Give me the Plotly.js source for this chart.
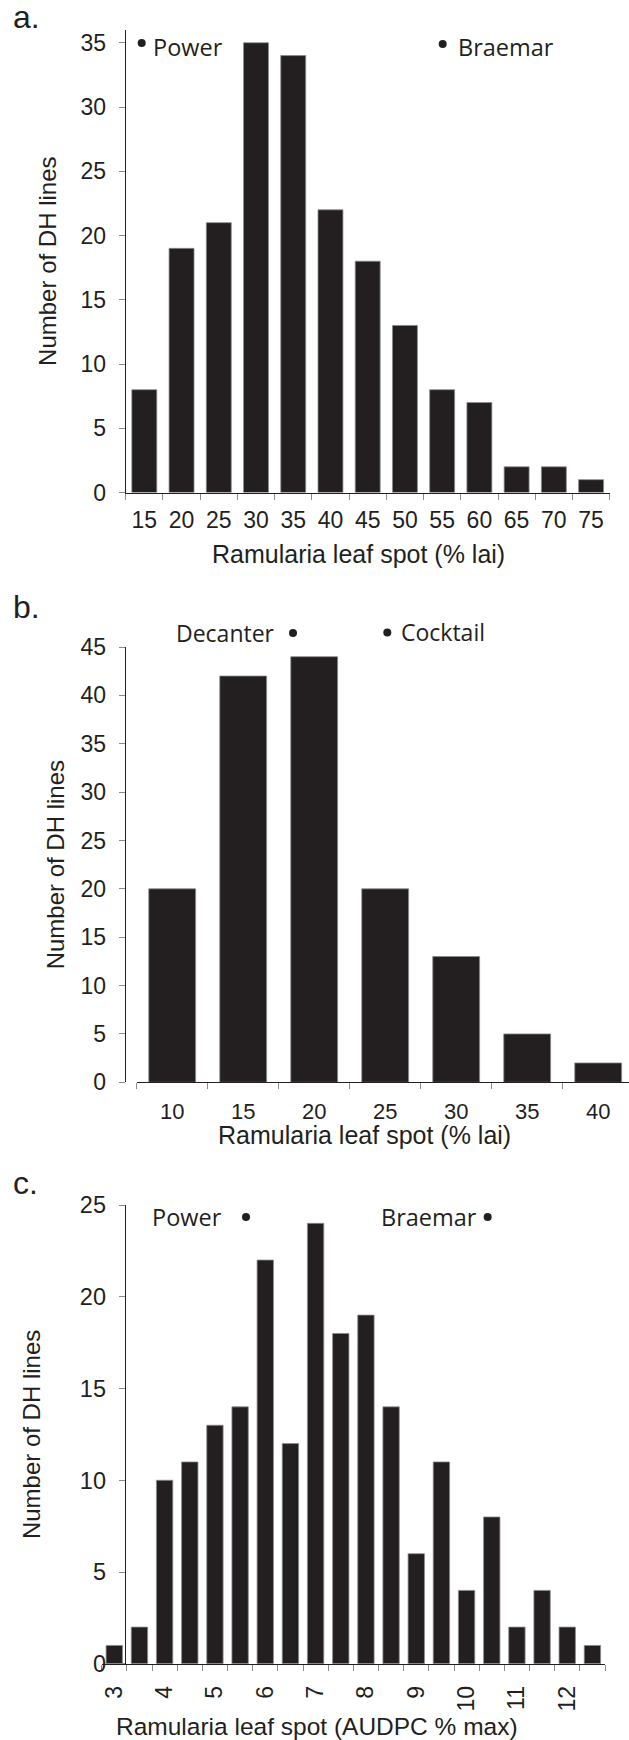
<!DOCTYPE html>
<html>
<head>
<meta charset="utf-8">
<script src="https://cdn.plot.ly/plotly-3.0.1.min.js"></script>
<style>html,body{margin:0;padding:0;background:#fff;}#chart{width:629px;height:1740px;}</style>
</head>
<body>
<div id="chart"></div>
<script>
// ---------- data ----------
const binsA = ['15','20','25','30','35','40','45','50','55','60','65','70','75'];
const countsA = [8, 19, 21, 35, 34, 22, 18, 13, 8, 7, 2, 2, 1];

const binsB = ['10','15','20','25','30','35','40'];
const countsB = [20, 42, 44, 20, 13, 5, 2];

const binsC = [3, 3.5, 4, 4.5, 5, 5.5, 6, 6.5, 7, 7.5, 8, 8.5, 9, 9.5, 10, 10.5, 11, 11.5, 12, 12.5];
const countsC = [1, 2, 10, 11, 13, 14, 22, 12, 24, 18, 19, 14, 6, 11, 4, 8, 2, 4, 2, 1];
const tickValsC = [3, 4, 5, 6, 7, 8, 9, 10, 11, 12];

const yTitle = 'Number of DH lines';
const xTitleAB = 'Ramularia leaf spot (% lai)';
const xTitleC = 'Ramularia leaf spot (AUDPC % max)';

// ---------- layout helpers ----------
const W = 629, H = 1740;
const px = v => v / W;
const py = v => 1 - v / H;

const INK = '#231f20';
const SANS = 'Liberation Sans, Arial, Helvetica, sans-serif';
const HUM = 'Open Sans, Noto Sans, sans-serif';

const barStyle = {color: INK, line: {color: '#8c8c8c', width: 0.8}};

const traces = [
  {type: 'bar', x: binsA, y: countsA, xaxis: 'x', yaxis: 'y', marker: barStyle, hoverinfo: 'x+y'},
  {type: 'bar', x: binsB, y: countsB, xaxis: 'x2', yaxis: 'y2', marker: barStyle, hoverinfo: 'x+y', width: 0.66},
  {type: 'bar', x: binsC, y: countsC, xaxis: 'x3', yaxis: 'y3', marker: barStyle, hoverinfo: 'x+y', width: 0.325}
];

function yAxis(domain, range, dtick, fsize, standoff, lblStand) {
  return {
    domain: domain, range: range, dtick: dtick, tick0: 0,
    showgrid: false, zeroline: false, showline: true, linecolor: INK, linewidth: 1,
    ticks: 'outside', ticklen: 6, tickcolor: '#8c8c8c', tickwidth: 1,
    ticklabelstandoff: lblStand,
    tickfont: {family: SANS, size: fsize, color: INK},
    title: {text: yTitle, font: {family: SANS, size: 24, color: INK}, standoff: standoff},
    fixedrange: true
  };
}

const layout = {
  width: W, height: H,
  margin: {l: 0, r: 0, t: 0, b: 0},
  paper_bgcolor: '#fff', plot_bgcolor: '#fff',
  showlegend: false,
  bargap: 0.33,
  xaxis: {
    domain: [px(125.7), px(609.7)], anchor: 'y', type: 'category',
    showline: true, linecolor: INK, linewidth: 1, showgrid: false, zeroline: false,
    ticks: 'outside', tickson: 'boundaries', ticklen: 6, tickcolor: '#8c8c8c',
    ticklabelstandoff: 7,
    tickfont: {family: SANS, size: 23, color: INK}, fixedrange: true
  },
  yaxis: yAxis([py(492.5), py(29.9)], [0, 36], 5, 23, 17, 8),
  xaxis2: {
    domain: [px(136.7), 1], anchor: 'y2', type: 'category', range: [-0.5, 6.434],
    showline: true, linecolor: INK, linewidth: 1, showgrid: false, zeroline: false,
    ticks: 'outside', tickson: 'boundaries', ticklen: 6, tickcolor: '#8c8c8c',
    ticklabelstandoff: 9,
    tickfont: {family: SANS, size: 22, color: INK}, fixedrange: true
  },
  yaxis2: yAxis([py(1082.3), py(647)], [0, 45], 5, 23, 9, 8),
  xaxis3: {
    domain: [px(101.7), px(605)], anchor: 'y3', type: 'linear', range: [2.75, 12.75],
    showline: true, linecolor: INK, linewidth: 1, showgrid: false, zeroline: false,
    tickmode: 'array', tickvals: tickValsC, ticktext: tickValsC.map(String),
    ticks: '', tickangle: -90, ticklabelstandoff: 12,
    minor: {tickmode: 'linear', tick0: 2.75, dtick: 0.5, ticks: 'outside', ticklen: 6, tickcolor: '#8c8c8c', showgrid: false},
    tickfont: {family: SANS, size: 23, color: INK}, fixedrange: true
  },
  yaxis3: yAxis([py(1663.8), py(1205)], [0, 25], 5, 23.5, 32, 8),
  annotations: [],
  shapes: []
};

function label(text, xLeft, yMid, size, family, anchor) {
  layout.annotations.push({
    xref: 'paper', yref: 'paper', x: px(xLeft), y: py(yMid),
    xanchor: anchor || 'left', yanchor: 'middle', showarrow: false,
    text: text, font: {family: family, size: size, color: INK}
  });
}
function dot(cx, cy) {
  const r = 4;
  layout.shapes.push({
    type: 'circle', xref: 'paper', yref: 'paper',
    x0: px(cx - r), x1: px(cx + r), y0: py(cy + r), y1: py(cy - r),
    fillcolor: INK, line: {width: 0}
  });
}

// panel letters
label('a.', 11, 17, 32, SANS);
label('b.', 11, 607, 32, SANS);
label('c.', 11, 1183, 32, SANS);

// cultivar markers
label('Power', 151, 47, 23.5, HUM);   dot(141.7, 43);
label('Braemar', 456, 47, 23.5, HUM); dot(442.7, 44);
label('Decanter', 174, 632.5, 23, HUM); dot(293, 633);
label('Cocktail', 399, 632, 23, HUM);  dot(387.3, 632.5);
label('Power', 150, 1217, 23.5, HUM);   dot(246, 1217);
label('Braemar', 379, 1217, 23.5, HUM); dot(487.7, 1217);

// x axis titles (placed to match the reference)
label(xTitleAB, 358, 554, 25, SANS, 'center');
label(xTitleAB, 364.3, 1135, 25, SANS, 'center');
label(xTitleC, 317, 1726, 24.5, SANS, 'center');

Plotly.newPlot('chart', traces, layout, {staticPlot: true, displayModeBar: false});
</script>
</body>
</html>
